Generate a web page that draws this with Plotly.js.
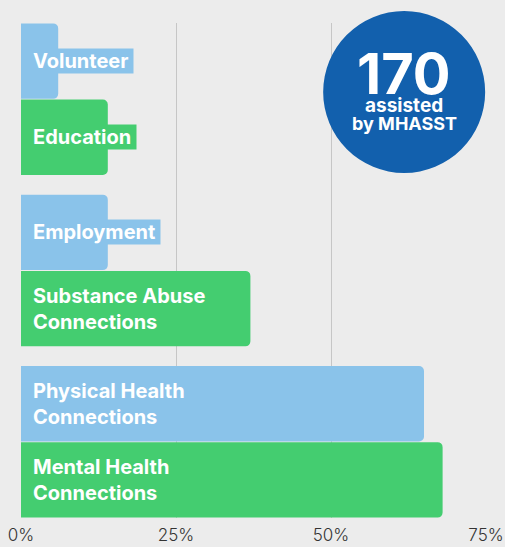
<!DOCTYPE html>
<html>
<head>
<meta charset="utf-8">
<script src="https://cdn.plot.ly/plotly-3.0.1.min.js"></script>
<style>
html,body{margin:0;padding:0;background:#ececec;}
#chart{width:505px;height:547px;}
</style>
</head>
<body>
<div id="chart"></div>
<script>
// Data
const groups = [0, 1, 2];
const blueLabels = ["Volunteer", "Employment", "Physical Health<br>Connections"];
const blueValues = [6, 14, 65];
const greenLabels = ["Education", "Substance Abuse<br>Connections", "Mental Health<br>Connections"];
const greenValues = [14, 37, 68];
const tickValues = [0, 25, 50, 75];
const tickLabels = ["0%", "25%", "50%", "75%"];
const badgeNumber = "170";
const badgeLine1 = "assisted";
const badgeLine2 = "by MHASST";

const BLUE = "#8ac3ea", GREEN = "#44cd70", NAVY = "#1260ad", BG = "#ececec";
const FONT = "Inter, 'Noto Sans', sans-serif";
const bargap = 0.11;
const half = (1 - bargap) / 4;

const traces = [
  {type: "bar", orientation: "h", y: groups, x: blueValues,
   marker: {color: BLUE, cornerradius: 5}, hoverinfo: "skip"},
  {type: "bar", orientation: "h", y: groups, x: greenValues,
   marker: {color: GREEN, cornerradius: 5}, hoverinfo: "skip"}
];

const annotations = [];
function addLabels(labels, color, off) {
  labels.forEach((t, i) => {
    annotations.push({
      x: 0, xref: "x", y: groups[i] + off, yref: "y",
      xanchor: "left", yanchor: "middle", xshift: 11,
      text: t + (t.indexOf("<br>") < 0 ? "&nbsp;" : ""), showarrow: false, align: "left",
      bgcolor: color, borderpad: 0,
      font: {family: FONT, size: 20, color: "#ffffff", weight: 700}
    });
  });
}
addLabels(blueLabels, BLUE, -half);
addLabels(greenLabels, GREEN, half);

const cx = 61.8, cy = 0.8606;
function badge(text, size, shift) {
  annotations.push({x: cx, xref: "x", y: cy, yref: "paper", xanchor: "center", yanchor: "middle",
    yshift: shift, text: text, showarrow: false,
    font: {family: FONT, size: size, color: "#ffffff", weight: 700}});
}
badge(badgeNumber, 56, 18);
badge(badgeLine1, 19, -13);
badge(badgeLine2, 18, -31);

const layout = {
  width: 505, height: 547,
  margin: {l: 21, r: 19, t: 23, b: 29},
  paper_bgcolor: BG, plot_bgcolor: BG,
  barmode: "group", bargap: bargap, bargroupgap: 0.01,
  showlegend: false,
  xaxis: {range: [0, 75], tickvals: tickValues, ticktext: tickLabels,
    showgrid: true, gridcolor: "#c6c6c6", gridwidth: 1, zeroline: false,
    showline: false, ticks: "", ticklabelstandoff: 5,
    tickfont: {family: FONT, size: 17, color: "#333333", weight: 300}, fixedrange: true},
  yaxis: {range: [2 + 0.445, -0.445], showticklabels: false, showgrid: false,
    zeroline: false, showline: false, fixedrange: true},
  shapes: [{type: "circle", xref: "x", yref: "paper", xsizemode: "pixel", ysizemode: "pixel",
    xanchor: cx, yanchor: cy, x0: -81, x1: 81, y0: -81, y1: 81,
    fillcolor: NAVY, line: {width: 0}, layer: "above"}],
  annotations: annotations
};

Plotly.newPlot("chart", traces, layout, {displayModeBar: false, staticPlot: true});
</script>
</body>
</html>
